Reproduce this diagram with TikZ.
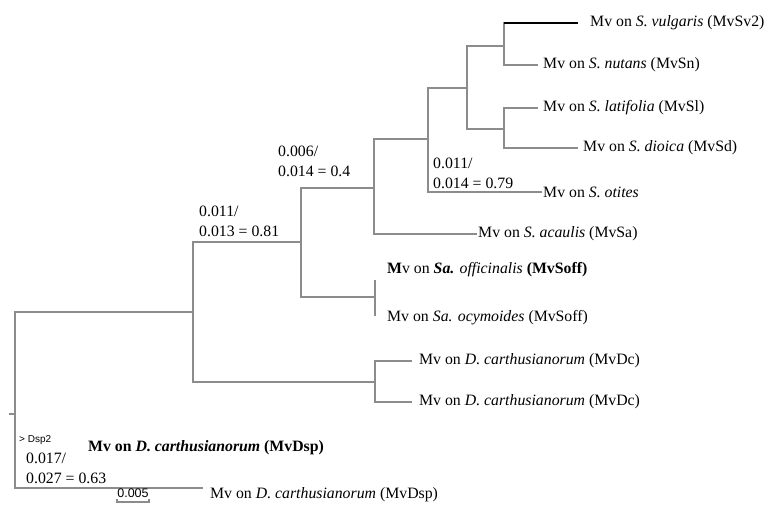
\documentclass[tikz,border=0pt]{standalone}
\usepackage{fontspec}
\setmainfont{Liberation Serif}
\setsansfont{Liberation Sans}
\definecolor{branchgray}{RGB}{140,140,140}

\begin{document}
\begin{tikzpicture}[x=1pt,y=-1pt,
	branch/.style={draw=branchgray,line width=1.8pt},
	taxon/.style={anchor=west,inner sep=0pt,font=\fontsize{15.8}{18}\selectfont},
	support/.style={anchor=west,inner sep=0pt,align=left,font=\fontsize{15.8}{20}\selectfont}]
	
	\useasboundingbox (0,0) rectangle (769,504);
	
	%Internal nodes
	\coordinate (r) at (15,400);
	\coordinate (a) at (193,312);
	\coordinate (b) at (301,242);
	\coordinate (c) at (374,188);
	\coordinate (d) at (428,139);
	\coordinate (e) at (467,88);
	\coordinate (f) at (504,46);
	\coordinate (g) at (504,129);
	\coordinate (h) at (375,297);
	\coordinate (k) at (375,382);
	\coordinate (stub) at (9,414);
	
	%Leaves
	\coordinate (Sv) at (578,23);
	\coordinate (Sn) at (538,65);
	\coordinate (Sl) at (538,108);
	\coordinate (Sd) at (578,148);
	\coordinate (So) at (542,192);
	\coordinate (Sa) at (477,234);
	\coordinate (Soff) at (375,280);
	\coordinate (Socy) at (375,316);
	\coordinate (Dc1) at (412,361);
	\coordinate (Dc2) at (412,402);
	\coordinate (Dsp) at (203,488);
	
	%Drawing branches
	\draw[branch] (stub) -- (stub -| r);
	\draw[branch] (r) |- (a) (r) |- (Dsp);
	\draw[branch] (a) |- (b) (a) |- (k);
	\draw[branch] (b) |- (c) (b) |- (h);
	\draw[branch] (c) |- (d) (c) |- (Sa);
	\draw[branch] (d) |- (e) (d) |- (So);
	\draw[branch] (e) |- (f) (e) |- (g);
	\draw[branch] (f) |- (Sv) (f) |- (Sn);
	\draw[black,line width=1.1pt] (Sv -| f) -- (Sv);
	\draw[branch] (g) |- (Sl) (g) |- (Sd);
	\draw[branch] (h) -- (Soff) (h) -- (Socy);
	\draw[branch] (k) |- (Dc1) (k) |- (Dc2);
	
	%Taxon labels
	\node[taxon] (tSv) at ([xshift=12]Sv) {Mv on \textit{S. vulgaris} (MvSv2)};
	\node[taxon] (tSn) at ([xshift=5]Sn) {Mv on \textit{S. nutans} (MvSn)};
	\node[taxon] (tSl) at ([xshift=5]Sl) {Mv on \textit{S. latifolia} (MvSl)};
	\node[taxon] (tSd) at ([xshift=5]Sd) {Mv on \textit{S. dioica} (MvSd)};
	\node[taxon] (tSo) at ([xshift=1]So) {Mv on \textit{S. otites}};
	\node[taxon] (tSa) at ([xshift=1]Sa) {Mv on \textit{S. acaulis} (MvSa)};
	\node[taxon] (tSoff) at (387,270) {\textbf{M}v on \textit{\textbf{Sa.} officinalis} \textbf{(MvSoff)}};
	\node[taxon] (tSocy) at (387,318) {Mv on \textit{Sa. ocymoides} (MvSoff)};
	\node[taxon] (tDc1) at ([xshift=7]Dc1) {Mv on \textit{D. carthusianorum} (MvDc)};
	\node[taxon] (tDc2) at ([xshift=7]Dc2) {Mv on \textit{D. carthusianorum} (MvDc)};
	\node[taxon] (tDsp) at ([xshift=7,yshift=-7]Dsp) {Mv on \textit{D. carthusianorum} (MvDsp)};
	\node[taxon,font=\bfseries\fontsize{15.8}{18}\selectfont] (tDsp2) at (88,448) {Mv on \textit{D. carthusianorum} (MvDsp)};
	
	%Support values
	\node[support] (s1) at (199,221) {0.011/\\0.013 = 0.81};
	\node[support] (s2) at (278,161) {0.006/\\0.014 = 0.4};
	\node[support] (s3) at (433,173) {0.011/\\0.014 = 0.79};
	\node[support] (s4) at (26,468) {0.017/\\0.027 = 0.63};
	\node[anchor=west,inner sep=0pt,font=\sffamily\fontsize{10}{12}\selectfont] (dsp) at (19,440) {> Dsp2};
	
	%Scale bar
	\coordinate (sb1) at (117,502);
	\coordinate (sb2) at (149,502);
	\draw[branchgray,line width=1.5pt] ([yshift=3]sb1) -- (sb1) -- (sb2) -- ([yshift=3]sb2);
	\node[inner sep=0pt,font=\sffamily\fontsize{12.5}{14}\selectfont] (sb) at (133,493) {0.005};
\end{tikzpicture}
\end{document}
